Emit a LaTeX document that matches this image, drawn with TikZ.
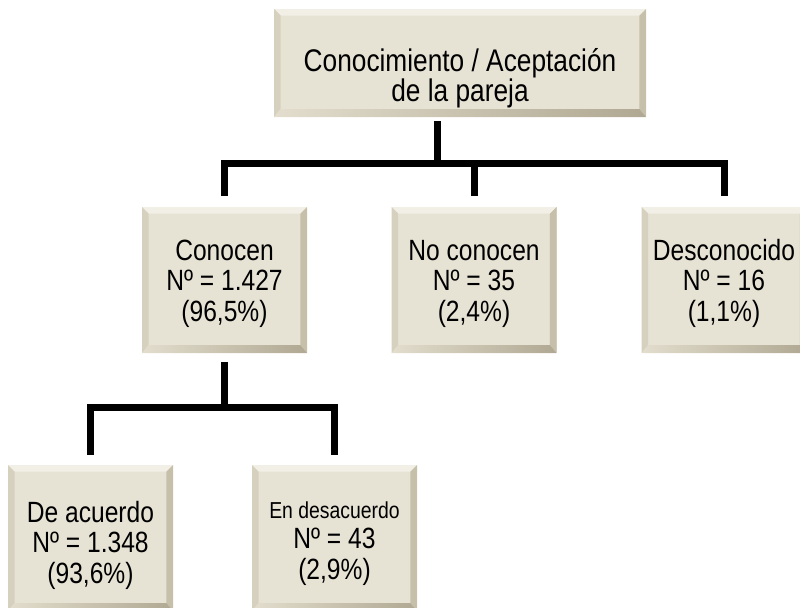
\documentclass[tikz,border=0pt]{standalone}
\usepackage{fontspec}
\setmainfont{Liberation Sans}[FakeStretch=0.84]

\definecolor{boxface}{RGB}{230,226,212}
\definecolor{bevtop}{RGB}{242,239,230}
\definecolor{bevleft}{RGB}{214,208,190}
\definecolor{bevright}{RGB}{198,191,170}
\definecolor{bevlowa}{RGB}{226,221,205}
\definecolor{bevlowb}{RGB}{176,168,146}

\newcommand\bev[3]{([shift={(#2,#3)}]path picture bounding box.#1)}
% struts that fix where the lines sit in a box
\newcommand\hi[1]{\rule{0pt}{#1}}
\newcommand\lo{\rule[-8.5pt]{0pt}{8.5pt}}

\tikzset{
  bevelbox/.style={fill=boxface, inner sep=0pt, align=center,
    minimum width=4.95cm, minimum height=4.38cm,
    font=\fontsize{25}{26.35}\selectfont,
    path picture={
      \fill[bevtop] \bev{north west}{0}{0} -- \bev{north east}{0}{0}
        -- \bev{north east}{-.2}{-.2} -- \bev{north west}{.2}{-.2} -- cycle;
      \fill[bevleft] \bev{north west}{0}{0} -- \bev{north west}{.2}{-.2}
        -- \bev{south west}{.2}{.24} -- \bev{south west}{0}{0} -- cycle;
      \fill[bevright] \bev{north east}{0}{0} -- \bev{north east}{-.2}{-.2}
        -- \bev{south east}{-.2}{.24} -- \bev{south east}{0}{0} -- cycle;
      \shade[left color=bevlowa, right color=bevlowb] \bev{south west}{0}{0}
        -- \bev{south west}{.2}{.24} -- \bev{south east}{-.2}{.24} -- \bev{south east}{0}{0} -- cycle;
    }},
  topbox/.style={bevelbox, minimum width=11.16cm, minimum height=3.24cm,
    font=\fontsize{26.7}{25.5}\selectfont},
  link/.style={line width=0.21cm, line join=miter}
}

\begin{document}
\begin{tikzpicture}
  \useasboundingbox (0,0) rectangle (24,-18.21);

  % boxes
  \node[topbox] (top) at (13.8,-1.89) {\hi{49.3pt}Conocimiento / Aceptación\\de la pareja\lo};
  \node[bevelbox] (conocen) at (6.735,-8.4) {\hi{27.2pt}Conocen\\Nº = 1.427\\(96,5\%)\lo};
  \node[bevelbox] (noconocen) at (14.22,-8.4) {\hi{27.2pt}No conocen\\Nº = 35\\(2,4\%)\lo};
  \node[bevelbox] (desconocido) at (21.72,-8.4) {\hi{27.2pt}Desconocido\\Nº = 16\\(1,1\%)\lo};
  \node[bevelbox] (acuerdo) at (2.715,-16.14) {\hi{34pt}De acuerdo\\Nº = 1.348\\(93,6\%)\lo};
  \node[bevelbox] (desacuerdo) at (10.035,-16.14)
    {\hi{27.2pt}{\fontsize{19.7}{26.35}\selectfont En desacuerdo}\\Nº = 43\\(2,9\%)\lo};

  % tree lines
  \coordinate (hub) at (13.11,-4.89);
  \coordinate (hublow) at (6.735,-12.21);
  \draw[link] (hub |- top.south) ++(0,-0.12) -- (hub);
  \draw[link] ([yshift=0.33cm]conocen.north) |- (hub) -| ([yshift=0.33cm]desconocido.north);
  \draw[link] ([yshift=0.33cm]noconocen.north) -- (noconocen.north |- hub);
  \draw[link] ([yshift=-0.27cm]conocen.south) -- (hublow);
  \draw[link] ([yshift=0.3cm]acuerdo.north) |- (hublow) -| ([yshift=0.3cm]desacuerdo.north);
\end{tikzpicture}
\end{document}
